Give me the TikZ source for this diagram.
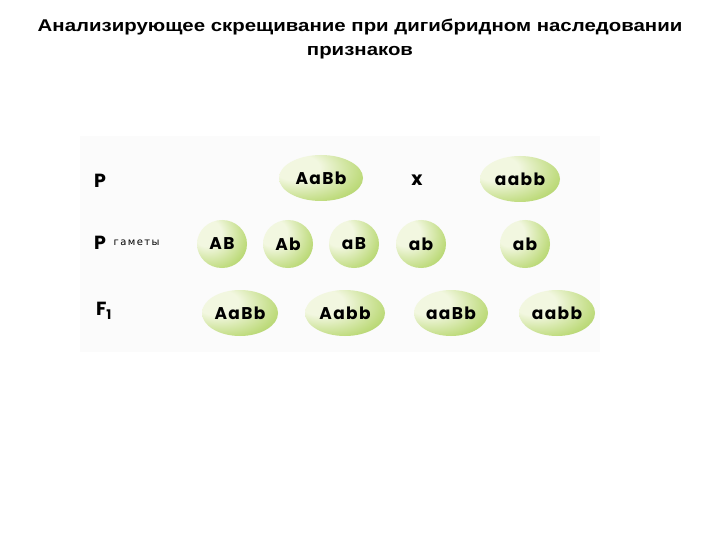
\documentclass[tikz,border=0pt]{standalone}
\usepackage{fontspec}
\setmainfont{Liberation Sans}
\newfontfamily\titlefont{Liberation Sans}[FakeStretch=1.2]
\newfontfamily\genefont{Poppins}[LetterSpace=8]
\newfontfamily\smallfont{DejaVu Sans}[LetterSpace=14]
\usetikzlibrary{shapes.geometric}

\definecolor{cellin}{RGB}{242,247,224}
\definecolor{cellmid}{RGB}{192,220,128}
\definecolor{cellout}{RGB}{146,192,64}
\pgfdeclareradialshading{cellshade}{\pgfpoint{-18bp}{14bp}}{color(0bp)=(cellin); color(14bp)=(cellin); color(34bp)=(cellmid); color(52bp)=(cellout); color(80bp)=(cellout)}

\tikzset{
	cell/.style={shape=ellipse, shading=cellshade, inner sep=0pt, minimum height=46, font=\genefont\bfseries\fontsize{17}{17}\selectfont},
	rowlabel/.style={font=\genefont\bfseries\fontsize{19}{19}\selectfont, inner sep=0pt}
}

\begin{document}
\begin{tikzpicture}[x=1pt, y=-1pt]
	\useasboundingbox (0,0) rectangle (720,540);
	\node[align=center, font=\titlefont\bfseries\fontsize{17}{24}\selectfont] (title) at (360,39)
		{Анализирующее скрещивание при дигибридном наследовании\\признаков};
	\fill[gray!3] (80,136) rectangle (600,352);

	% row labels
	\node[rowlabel] (lp) at (100,181) {P};
	\node[rowlabel] (lg) at (100,243) {P};
	\node[font=\smallfont\fontsize{10}{10}\selectfont, anchor=west] (gam) at (lg.east) {\hspace{4pt}гаметы};
	\node[rowlabel] (lf) at (104,311) {F\textsubscript{1}};

	% parents
	\node[cell, minimum width=84] (p1) at (321,178) {AaBb};
	\node[font=\genefont\bfseries\fontsize{19}{19}\selectfont] (cross) at (417,180) {x};
	\node[cell, minimum width=80] (p2) at (520,179) {aabb};

	% gametes
	\foreach \x/\g [count=\i] in {222/AB, 288/Ab, 354/aB, 421/ab, 525/ab}
		\node[cell, minimum width=50, minimum height=48] (g\i) at (\x,244) {\g};

	% offspring
	\foreach \x/\w/\g [count=\i] in {240/76/AaBb, 345/80/Aabb, 451/74/aaBb, 557/76/aabb}
		\node[cell, minimum width=\w] (f\i) at (\x,313) {\g};
\end{tikzpicture}
\end{document}
